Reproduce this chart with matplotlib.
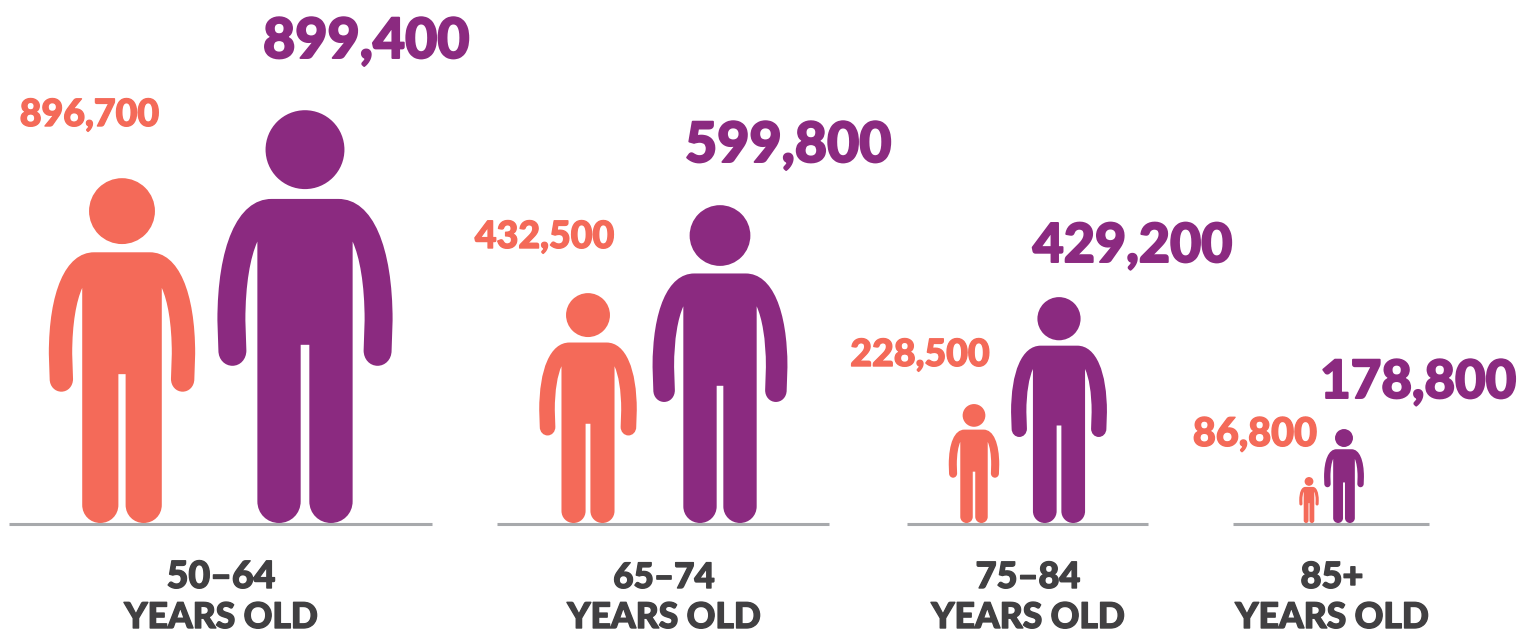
import matplotlib
matplotlib.use("Agg")
import matplotlib.pyplot as plt
import matplotlib.patheffects as pe
from matplotlib.path import Path
from matplotlib.patches import PathPatch, Circle
from matplotlib.transforms import Affine2D

ages = ["50\u201364", "65\u201374", "75\u201384", "85+"]
orange_labels = ["896,700", "432,500", "228,500", "86,800"]
purple_labels = ["899,400", "599,800", "429,200", "178,800"]
# figure heights, px
orange_heights = [345, 230, 119, 46]
purple_heights = [413, 318, 226, 94]

orange_x = [122, 588, 974, 1309]
purple_x = [305, 720, 1059, 1344]
orange_label_x = [89.5, 544.5, 920, 1255]
orange_label_y = [126, 248, 366, 446]
orange_size = [27, 27, 27, 28.5]
purple_label_x = [366, 788, 1132.5, 1418]
purple_label_y = [58, 162, 262, 398]
purple_size = [40, 40, 38.7, 38]
line_x0 = [9, 497, 907, 1233]
line_x1 = [432, 829, 1148, 1429]
age_x = [221, 664, 1028, 1332]
age_size = [27, 25.2, 26, 26]

ORANGE = "#F46A59"
PURPLE = "#8B2A80"
GREY = "#414042"
BASE = 523

plt.rcParams['font.family'] = ['Lato', 'DejaVu Sans']


def person_path():
    # right half of the outline, units are zoom pixels, height 1240
    H = 1240.0
    steps = [
        (Path.LINETO, (100, 295)),
        (Path.CURVE4, (204, 295)), (Path.CURVE4, (263, 440)), (Path.CURVE4, (263, 660)),
        (Path.LINETO, (260, 750)),
        (Path.CURVE4, (260, 778)), (Path.CURVE4, (240, 796)), (Path.CURVE4, (218, 796)),
        (Path.CURVE4, (194, 796)), (Path.CURVE4, (176, 776)), (Path.CURVE4, (176, 750)),
        (Path.LINETO, (179, 660)),
        (Path.CURVE4, (179, 550)), (Path.CURVE4, (164, 470)), (Path.CURVE4, (143, 423)),
        (Path.LINETO, (143, 1203)),
        (Path.CURVE4, (143, 1240)), (Path.CURVE4, (114, 1268)), (Path.CURVE4, (78, 1268)),
        (Path.CURVE4, (42, 1268)), (Path.CURVE4, (13, 1240)), (Path.CURVE4, (13, 1203)),
        (Path.LINETO, (13, 733)),
    ]
    verts = [(0, 295)] + [p for c, p in steps]
    codes = [Path.MOVETO] + [c for c, p in steps]
    # mirror for left half, curve control points just run backwards
    left_verts = [(-x, y) for x, y in reversed(verts[:-1])]
    left_codes = list(reversed(codes[1:]))
    verts = verts + [(-13, 733)] + left_verts
    codes = codes + [Path.LINETO] + left_codes
    verts = [(x / H, (y - 1268) / H) for x, y in verts]
    return Path(verts, codes)


def draw_person(ax, x, height, color):
    t = Affine2D().scale(height).translate(x, BASE) + ax.transData
    ax.add_patch(PathPatch(person_path(), fc=color, ec="none", transform=t))
    ax.add_patch(Circle((0, -0.904), 0.0955, fc=color, ec="none", transform=t))


def heavy_text(ax, x, y, s, color, size, stroke):
    # the reference face is heavier than what Lato gives here, so thicken it
    ax.text(x, y, s, color=color, fontsize=size, fontweight="black", ha="center", va="baseline",
            path_effects=[pe.withStroke(linewidth=stroke, foreground=color)])


fig = plt.figure(figsize=(15.18, 6.34), dpi=100)
ax = fig.add_axes([0, 0, 1, 1])
ax.set_xlim(0, 1518)
ax.set_ylim(634, 0)
ax.axis("off")

for i in range(len(ages)):
    ax.plot([line_x0[i], line_x1[i]], [BASE + 1, BASE + 1], color="#A7A9AC", lw=2.2, solid_capstyle="butt")
    draw_person(ax, orange_x[i], orange_heights[i], ORANGE)
    draw_person(ax, purple_x[i], purple_heights[i], PURPLE)
    heavy_text(ax, orange_label_x[i], orange_label_y[i], orange_labels[i], ORANGE, orange_size[i], 1.0)
    heavy_text(ax, purple_label_x[i], purple_label_y[i], purple_labels[i], PURPLE, purple_size[i], 1.4)
    heavy_text(ax, age_x[i], 588, ages[i], GREY, age_size[i], 1.0)
    heavy_text(ax, age_x[i], 628, "YEARS OLD", GREY, 25.5, 1.0)

fig.savefig("out.png", dpi=100)
